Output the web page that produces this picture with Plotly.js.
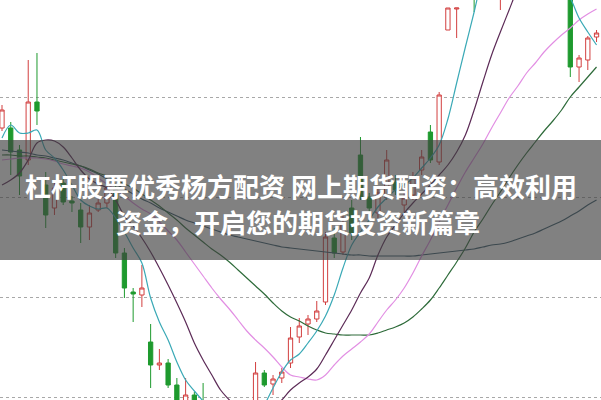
<!DOCTYPE html>
<html><head><meta charset="utf-8">
<script src="https://cdn.plot.ly/plotly-3.0.1.min.js"></script>
<style>html,body{margin:0;padding:0;background:#fff;}#chart{width:601px;height:400px;}</style>
</head><body><div id="chart"></div>
<script>
// candle index (trading days)
const days = Array.from({length: 69}, (_, i) => i);
const openP  = [372,372,350,340,398,315,292,317,299,290,273,290,297,310,247,208,205,158,135,137,115,95,105,95,80,68,60,64,72,95,127,116,122,137,163,176,181,198,262,248,292,345,303,287,303,318,295,305,330,368,338,470,491,510,540,520,590,530,560,600,580,550,530,525,520,515,433,440,463];
const highP  = [395,378,355,440,447,328,320,322,304,297,295,302,320,317,252,212,235,176,151,141,122,122,108,117,90,80,75,82,92,138,130,125,132,173,182,185,199,268,272,288,300,363,307,312,350,325,308,328,350,375,408,492,492,560,570,600,625,580,615,620,600,570,550,540,535,520,445,464,470];
const lowP   = [369,325,305,335,375,272,285,295,288,257,260,288,292,242,202,178,193,112,130,112,85,90,80,70,60,48,45,55,65,90,113,105,117,132,157,165,178,195,242,245,260,300,288,282,300,305,288,300,325,337,335,470,462,503,488,508,570,490,540,560,530,520,510,505,503,423,418,430,458];
const closeP = [390,348,324,398,389,285,312,298,297,273,287,297,312,247,212,206,212,135,137,115,95,105,90,80,68,60,64,72,80,127,115,121,128,162,174,181,189,263,247,277,267,303,292,307,340,310,302,322,343,340,405,492,492,536,515,590,610,560,600,580,550,530,525,520,515,433,442,462,467];
// moving averages
const ma5  = [362,375,367,367,370,350,342,330,315,300,294,291,292,282,268,252,237,202,178,160,138,120,109,99,90,82,75,70,75,82,95,112,128,140,146,157,169,184,205,232,255,268,280,293,302,310,315,322,332,342,355,381,417,453,488,525,550,565,575,580,575,560,545,530,515,502,482,468,455];
const ma10 = [315,320,327,340,357,360,359,353,342,330,321,316,312,300,284,274,262,248,232,215,197,178,157,140,125,110,100,90,84,82,86,92,100,110,117,123,131,145,160,175,190,207,222,245,263,275,287,297,306,315,325,335,348,365,390,418,445,468,490,512,530,540,545,545,540,532,525,518,512];
const ma20 = [340,341,342,342,342,341,339,336,334,332,328,322,316,310,304,297,291,286,278,269,260,248,236,224,212,201,191,180,169,160,152,143,133,125,123,121,120,125,135,144,151,158,166,178,190,200,212,227,244,260,278,295,312,328,342,356,372,387,402,414,427,437,448,457,465,472,480,486,491];
const ma30 = [345,345,344,344,343,342,340,338,336,334,331,327,324,320,316,312,306,300,294,287,280,272,265,258,251,245,238,230,222,214,206,197,189,183,179,174,170,167,166,165,165,165,165,167,170,173,177,183,191,200,212,225,238,252,268,281,295,308,322,335,347,358,369,379,390,403,413,423,433];
const ma60 = [350,349,348,347,345,344,342,340,337,334,330,326,321,316,311,306,301,297,292,288,284,280,277,274,271,268,265,263,261,259,257,255,253,252,251,250,249,248,247,246,245,245,244,244,244,244,244,244,245,246,247,248,249,250,251,253,255,256,258,261,264,267,271,275,279,284,289,295,300];
const gridLevels = [103,203,303,403];
const titleLine1 = '杠杆股票优秀杨方配资 网上期货配资：高效利用';
const titleLine2 = '资金，开启您的期货投资新篇章';

const RED = '#d23f3f', GREEN = '#1e9a2e';
const traces = [
  {type:'candlestick', x:days, open:openP, high:highP, low:lowP, close:closeP,
   increasing:{line:{color:RED,width:1}, fillcolor:'#ffffff'},
   decreasing:{line:{color:GREEN,width:1}, fillcolor:GREEN},
   whiskerwidth:0, hoverinfo:'skip'},
  {type:'scatter', mode:'lines', x:days, y:ma60, line:{color:'#36596a',width:1.2,shape:'spline'}, hoverinfo:'skip'},
  {type:'scatter', mode:'lines', x:days, y:ma30, line:{color:'#2e6b3a',width:1.2,shape:'spline'}, hoverinfo:'skip'},
  {type:'scatter', mode:'lines', x:days, y:ma20, line:{color:'#e28fe3',width:1.2,shape:'spline'}, hoverinfo:'skip'},
  {type:'scatter', mode:'lines', x:days, y:ma10, line:{color:'#5c2b57',width:1.2,shape:'spline'}, hoverinfo:'skip'},
  {type:'scatter', mode:'lines', x:days, y:ma5,  line:{color:'#3aa9b6',width:1.2,shape:'spline'}, hoverinfo:'skip'}
];
const layout = {
  width:601, height:400, margin:{l:0,r:0,t:0,b:0}, showlegend:false,
  paper_bgcolor:'#ffffff', plot_bgcolor:'#ffffff',
  xaxis:{range:[-0.229,68.51], showgrid:false, zeroline:false, showticklabels:false, showline:false, ticks:'', rangeslider:{visible:false}, fixedrange:true},
  yaxis:{range:[100,500], tickvals:gridLevels, showgrid:true, gridcolor:'#a8a8a8', gridwidth:1, griddash:'dot', zeroline:false, showticklabels:false, showline:false, ticks:'', fixedrange:true},
  shapes:[{type:'rect', xref:'paper', yref:'paper', x0:0, x1:1, y0:0.35, y1:0.65, fillcolor:'rgba(64,64,64,0.66)', line:{width:0}, layer:'above'}],
  annotations:[
    {text:'<b>'+titleLine1+'</b>', xref:'paper', yref:'paper', x:0.5, y:0.5375, xanchor:'center', yanchor:'middle', showarrow:false, font:{family:'"Noto Sans CJK SC", sans-serif', size:26, color:'#ffffff'}},
    {text:'<b>'+titleLine2+'</b>', xref:'paper', yref:'paper', x:0.496, y:0.445, xanchor:'center', yanchor:'middle', showarrow:false, font:{family:'"Noto Sans CJK SC", sans-serif', size:26, color:'#ffffff'}}
  ]
};
Plotly.newPlot('chart', traces, layout, {staticPlot:true, displayModeBar:false});
</script></body></html>
